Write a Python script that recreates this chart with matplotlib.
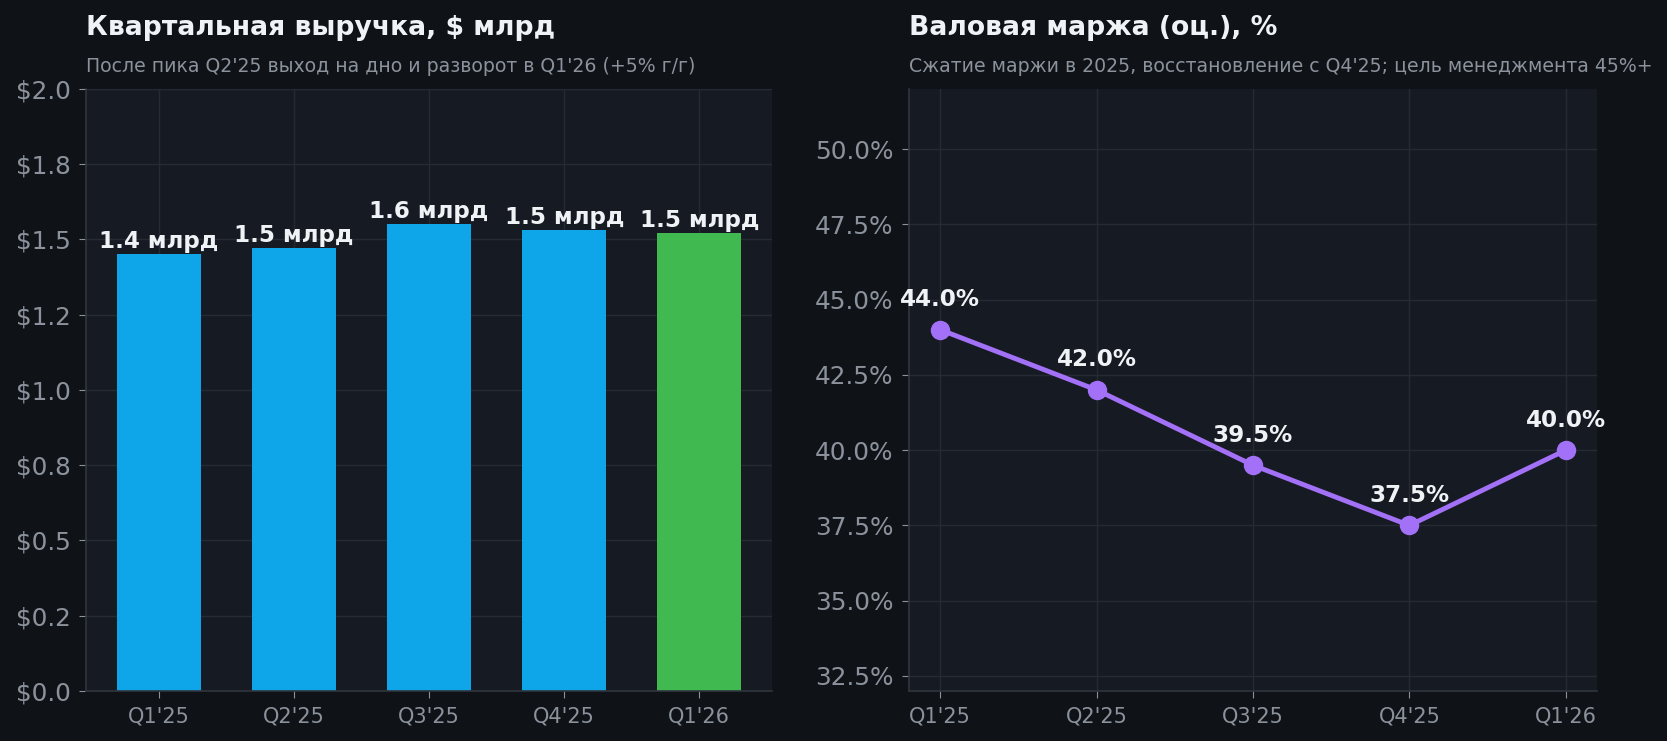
import numpy as np
import matplotlib
matplotlib.use("Agg")
import matplotlib.pyplot as plt
from matplotlib.ticker import FuncFormatter, MultipleLocator

quarters = ["Q1'25", "Q2'25", "Q3'25", "Q4'25", "Q1'26"]
revenue = [1.45, 1.47, 1.55, 1.53, 1.52]
revenue_labels = ["1.4 млрд", "1.5 млрд", "1.6 млрд", "1.5 млрд", "1.5 млрд"]
margin = [44.0, 42.0, 39.5, 37.5, 40.0]

BG = "#0f1318"
PANEL = "#161a22"
GRID = "#262a33"
SPINE = "#30353e"
TXT = "#f0f3f6"
MUTED = "#8b929c"
BLUE = "#0ea5e9"
GREEN = "#3fb950"
PURPLE = "#a371f7"

plt.rcParams["font.family"] = ["DejaVu Sans"]

fig = plt.figure(figsize=(16.67, 7.41), dpi=100, facecolor=BG)
ax1 = fig.add_axes([0.0514, 0.0675, 0.412, 0.8125])
ax2 = fig.add_axes([0.5453, 0.0675, 0.4127, 0.8125])


def style(ax):
    ax.set_facecolor(PANEL)
    for s in ["top", "right"]:
        ax.spines[s].set_visible(False)
    for s in ["left", "bottom"]:
        ax.spines[s].set_color(SPINE)
        ax.spines[s].set_linewidth(1.2)
    ax.grid(True, color=GRID, linewidth=1)
    ax.set_axisbelow(True)
    ax.tick_params(axis="y", colors=MUTED, labelsize=17.8, length=5, pad=6)
    ax.tick_params(axis="x", colors=MUTED, labelsize=15, length=5, pad=6)


# left: revenue bars
style(ax1)
x = np.arange(len(quarters))
colors = [BLUE] * (len(quarters) - 1) + [GREEN]
bars = ax1.bar(x, revenue, width=0.62, color=colors, zorder=2)
for b, lab in zip(bars, revenue_labels):
    ax1.annotate(lab, (b.get_x() + b.get_width() / 2, b.get_height()),
                 xytext=(0, 1), textcoords="offset points",
                 ha="center", va="bottom", fontsize=16.6, fontweight="bold", color=TXT)
ax1.set_ylim(0, 2.0)
ax1.yaxis.set_major_locator(MultipleLocator(0.25))
ax1.yaxis.set_major_formatter(FuncFormatter(lambda v, p: "$%.1f" % v))
ax1.set_xticks(x)
ax1.set_xticklabels(quarters)

ax1.text(0, 1.0897, "Квартальная выручка, $ млрд", transform=ax1.transAxes,
         fontsize=19.2, fontweight="bold", color=TXT, va="baseline", ha="left")
ax1.text(0, 1.028, "После пика Q2'25 выход на дно и разворот в Q1'26 (+5% г/г)",
         transform=ax1.transAxes, fontsize=13.6, color=MUTED, va="baseline", ha="left")

# right: gross margin line
style(ax2)
ax2.plot(x, margin, color=PURPLE, linewidth=3.5, marker="o", markersize=13, zorder=3)
for xi, m in zip(x, margin):
    ax2.annotate("%.1f%%" % m, (xi, m), xytext=(0, 17), textcoords="offset points",
                 ha="center", va="baseline", fontsize=16.6, fontweight="bold", color=TXT)
ax2.set_ylim(32, 52)
ax2.set_xlim(-0.2, 4.2)
ax2.set_yticks(np.arange(32.5, 50.1, 2.5))
ax2.yaxis.set_major_formatter(FuncFormatter(lambda v, p: "%.1f%%" % v))
ax2.set_xticks(x)
ax2.set_xticklabels(quarters)

ax2.text(0, 1.0897, "Валовая маржа (оц.), %", transform=ax2.transAxes,
         fontsize=19.2, fontweight="bold", color=TXT, va="baseline", ha="left")
ax2.text(0, 1.028, "Сжатие маржи в 2025, восстановление с Q4'25; цель менеджмента 45%+",
         transform=ax2.transAxes, fontsize=13.6, color=MUTED, va="baseline", ha="left")

fig.savefig("out.png", dpi=100, facecolor=BG)
